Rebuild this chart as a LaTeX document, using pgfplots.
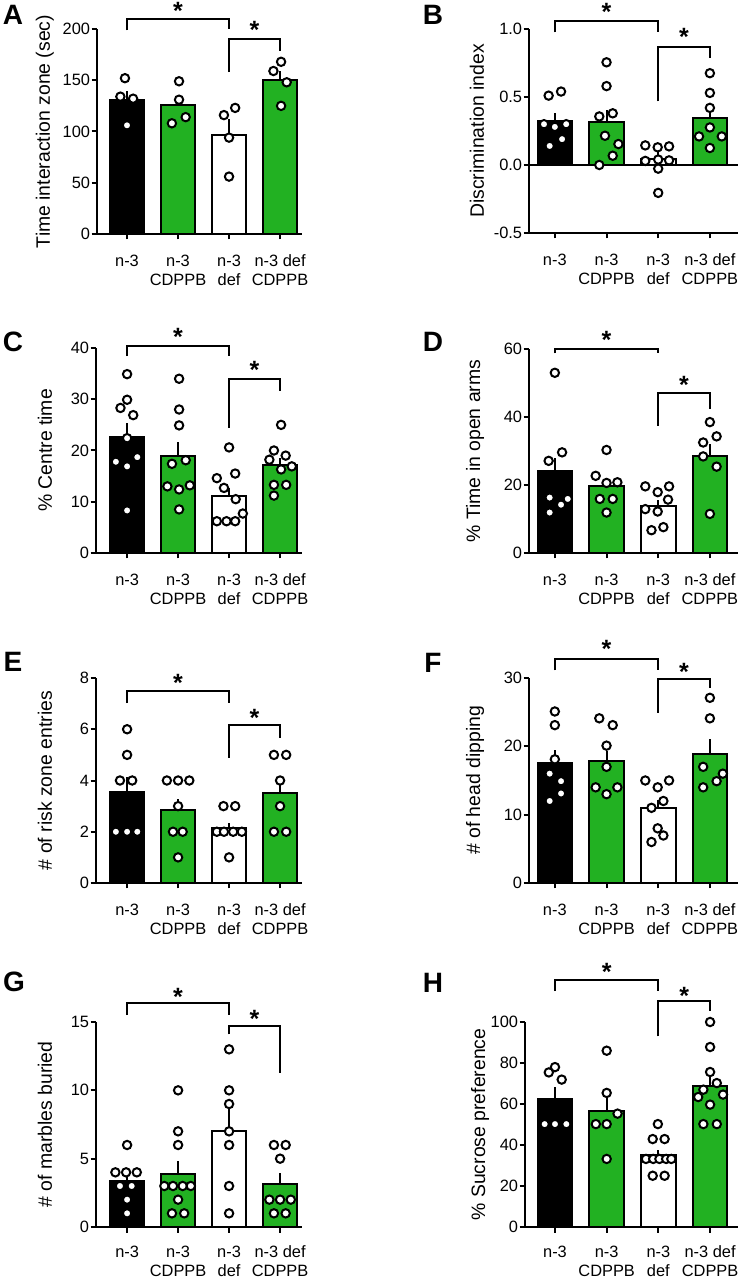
\documentclass[border=0pt]{standalone}
\usepackage{fontspec}
\setmainfont{Liberation Sans}
\usepackage{pgfplots}
\pgfplotsset{compat=1.18}
\definecolor{grn}{RGB}{34,177,34}
\pgfplotsset{
  panel/.style={
    scale only axis, clip=false, axis lines*=left, height=102.5pt,
    axis line style={line width=1pt},
    tick style={black, line width=1pt},
    major tick length=2.75pt, tick align=outside,
    xtick pos=left, ytick pos=left,
    xtick={0,1,2,3},
    xticklabels={n-3,{n-3\\CDPPB},{n-3\\def},{n-3 def\\CDPPB}},
    xticklabel style={align=center, font=\fontsize{8.2}{9.5}\selectfont, inner sep=0pt, anchor=north, yshift=-7.5pt},
    yticklabel style={font=\fontsize{8.2}{10}\selectfont, inner sep=0pt, anchor=east, xshift=-0.5pt},
    ylabel style={font=\fontsize{9.7}{11.6}\selectfont, anchor=center},
  },
  barst/.style={ybar, bar width=0.67, bar shift=0pt, draw=black, line width=1pt},
  dots/.style={only marks, mark=*, mark size=2.1pt, mark options={fill=white, draw=black, line width=1pt}},
  sem/.style={draw=none, mark=none, forget plot, error bars/.cd, y dir=plus, y explicit, error mark=none, error bar style={draw=black, line width=1pt}},
}
\newcommand{\sig}[7]{%
  \draw[line width=1pt] (axis cs:#1,#2) |- (axis cs:#3,#5) -- (axis cs:#3,#4);
  \node[font=\fontsize{12.5}{12.5}\selectfont\bfseries, yshift=-1.7pt] at (axis cs:#6,#7) {*};
}
\begin{document}
\begin{tikzpicture}
\useasboundingbox (0,0) rectangle (370.5pt,640pt);
\fill[white] (0,0) rectangle (370.5pt,640pt);

% ---------------- A
\begin{axis}[panel, at={(48.5pt,523pt)}, anchor=south west, width=102.5pt,
  xmin=-0.588, xmax=3.43, ymin=0, ymax=200,
  ytick={0,50,100,150,200}, yticklabels={0,50,100,150,200},
  ylabel={Time interaction zone (sec)}, ylabel style={at={(axis description cs:-0.254,0.5)}}]
\addplot[barst, fill=black] coordinates {(0,131)};
\addplot[barst, fill=grn] coordinates {(1,125.5)};
\addplot[barst, fill=white] coordinates {(2,97)};
\addplot[barst, fill=grn] coordinates {(3,150)};
\addplot[dots] coordinates {(-0.04,152) (-0.13,134) (0.12,132) (0,106)
  (1.02,149) (1.02,131) (0.88,108) (1.15,114)
  (1.90,116) (2.12,123) (2,94) (2,56)
  (3.02,168) (2.87,159) (3.13,148) (3.02,125)};
\addplot[sem] coordinates {(0,131) +- (0,8.5) (1,125.5) +- (0,8.4) (2,97) +- (0,15) (3,150) +- (0,8.8)};
\sig{0}{198.7}{2}{200}{209.4}{1}{221}
\sig{2}{158}{3}{179}{190.6}{2.5}{202.6}
\end{axis}

% ---------------- B
\begin{axis}[panel, at={(264.5pt,523.5pt)}, anchor=south west, width=104.4pt,
  xmin=-0.5, xmax=3.54, ymin=-0.5, ymax=1.0, height=102pt,
  ytick={-0.5,0,0.5,1}, yticklabels={-0.5,0.0,0.5,1.0},
  ylabel={Discrimination index}, ylabel style={at={(axis description cs:-0.249,0.5)}}]
\addplot[black, line width=1pt] coordinates {(-0.5,0) (3.54,0)};
\addplot[barst, fill=black] coordinates {(0,0.323)};
\addplot[barst, fill=grn] coordinates {(1,0.314)};
\addplot[barst, fill=white] coordinates {(2,0.045)};
\addplot[barst, fill=grn] coordinates {(3,0.349)};
\addplot[dots] coordinates {(-0.12,0.51) (0.12,0.54) (-0.21,0.30) (0,0.28) (0.22,0.30) (-0.10,0.14) (0.14,0.19)
  (1,0.755) (1,0.58) (0.86,0.357) (1.12,0.38) (0.97,0.215) (1.23,0.154) (1.12,0.068) (0.86,0.0)
  (1.75,0.144) (1.99,0.13) (2.21,0.137) (1.75,0.03) (2,0.04) (2.21,0.034) (2,-0.027) (2,-0.205)
  (3,0.675) (3,0.53) (3,0.42) (3,0.276) (2.79,0.21) (3.23,0.21) (3,0.125)};
\addplot[sem] coordinates {(0,0.323) +- (0,0.058) (1,0.314) +- (0,0.09) (2,0.045) +- (0,0.055) (3,0.349) +- (0,0.086)};
\sig{0}{0.976}{2}{0.976}{1.061}{1}{1.15}
\sig{2}{0.467}{3}{0.785}{0.87}{2.5}{0.968}
\end{axis}

% ---------------- C
\begin{axis}[panel, at={(48pt,363.5pt)}, anchor=south west, width=103pt,
  xmin=-0.61, xmax=3.43, ymin=0, ymax=40,
  ytick={0,10,20,30,40}, yticklabels={0,10,20,30,40},
  ylabel={\% Centre time}, ylabel style={at={(axis description cs:-0.248,0.5)}}]
\addplot[barst, fill=black] coordinates {(0,22.7)};
\addplot[barst, fill=grn] coordinates {(1,18.9)};
\addplot[barst, fill=white] coordinates {(2,11.2)};
\addplot[barst, fill=grn] coordinates {(3,17.1)};
\addplot[dots] coordinates {(0,34.9) (0,29.9) (-0.13,28.3) (0.12,26.9) (0,22.4) (-0.22,17.8) (0.2,18.7) (0,16.9) (0,8.3)
  (1.02,34.0) (1.02,28.0) (1.02,24.9) (0.88,17.4) (1.15,18.1) (0.79,13.0) (1.02,12.4) (1.23,13.2) (1.02,8.5)
  (2,20.6) (1.76,14.6) (2.12,15.5) (1.90,12.7) (2.13,10.5) (1.76,6.2) (1.95,6.2) (2.12,6.2) (2.27,7.7)
  (3.02,25.0) (2.88,20.0) (2.79,18.2) (3.11,19.0) (3.23,16.9) (3.02,16.3) (2.88,13.3) (3.12,13.3) (2.88,11.2)};
\addplot[sem] coordinates {(0,22.7) +- (0,2.7) (1,18.9) +- (0,2.8) (2,11.2) +- (0,1.5) (3,17.1) +- (0,1.4)};
\sig{0}{38.4}{2}{38.4}{40.3}{1}{42.9}
\sig{2}{24.4}{3}{31.7}{34.0}{2.5}{36.4}
\end{axis}

% ---------------- D
\begin{axis}[panel, at={(264.5pt,363.5pt)}, anchor=south west, width=104.4pt,
  xmin=-0.5, xmax=3.54, ymin=0, ymax=60, height=102pt,
  ytick={0,20,40,60}, yticklabels={0,20,40,60},
  ylabel={\% Time in open arms}, ylabel style={at={(axis description cs:-0.258,0.5)}}]
\addplot[barst, fill=black] coordinates {(0,24.0)};
\addplot[barst, fill=grn] coordinates {(1,19.8)};
\addplot[barst, fill=white] coordinates {(2,13.9)};
\addplot[barst, fill=grn] coordinates {(3,28.5)};
\addplot[dots] coordinates {(0,53) (-0.12,27.1) (0.14,29.6) (-0.10,16.3) (0.25,15.9) (0.12,14.2) (-0.10,11.9)
  (1,30.3) (0.79,22.7) (1,20.6) (1.21,20.8) (0.87,15.9) (1.12,15.9) (1,11.9)
  (1.75,19.6) (2.21,19.6) (1.99,17.9) (2.19,15.7) (1.75,12.9) (1.99,12.2) (1.87,6.7) (2.10,7.6)
  (3,38.5) (3.13,34.3) (2.87,32.5) (2.87,28.4) (3.13,25.4) (3,11.5)};
\addplot[sem] coordinates {(0,24.0) +- (0,3.9) (1,19.8) +- (0,2.2) (2,13.9) +- (0,1.8) (3,28.5) +- (0,3.6)};
\sig{0}{58.7}{2}{58.7}{59.9}{1}{63.6}
\sig{2}{37.4}{3}{42.3}{47.2}{2.5}{50.4}
\end{axis}

% ---------------- E
\begin{axis}[panel, at={(48pt,198.5pt)}, anchor=south west, width=103pt,
  xmin=-0.61, xmax=3.43, ymin=0, ymax=8,
  ytick={0,2,4,6,8}, yticklabels={0,2,4,6,8},
  ylabel={\# of risk zone entries}, ylabel style={at={(axis description cs:-0.248,0.5)}}]
\addplot[barst, fill=black] coordinates {(0,3.57)};
\addplot[barst, fill=grn] coordinates {(1,2.86)};
\addplot[barst, fill=white] coordinates {(2,2.14)};
\addplot[barst, fill=grn] coordinates {(3,3.5)};
\addplot[dots] coordinates {(0,6) (0,5) (-0.14,4) (0.10,4) (-0.22,2) (0,2) (0.2,2)
  (0.78,4) (1,4) (1.22,4) (1,3) (0.90,2) (1.09,2) (1,1)
  (1.89,3) (2.12,3) (1.76,2) (1.90,2) (2.08,2) (2.25,2) (2,1)
  (2.88,5) (3.12,5) (3,4) (3,3) (2.88,2) (3.12,2)};
\addplot[sem] coordinates {(0,3.57) +- (0,0.55) (1,2.86) +- (0,0.43) (2,2.14) +- (0,0.2) (3,3.5) +- (0,0.6)};
\sig{0}{7.02}{2}{7.02}{7.48}{1}{7.96}
\sig{2}{4.88}{3}{5.66}{6.18}{2.5}{6.57}
\end{axis}

% ---------------- F
\begin{axis}[panel, at={(264.5pt,198.5pt)}, anchor=south west, width=104.4pt,
  xmin=-0.5, xmax=3.54, ymin=0, ymax=30,
  ytick={0,10,20,30}, yticklabels={0,10,20,30},
  ylabel={\# of head dipping}, ylabel style={at={(axis description cs:-0.258,0.5)}}]
\addplot[barst, fill=black] coordinates {(0,17.5)};
\addplot[barst, fill=grn] coordinates {(1,17.9)};
\addplot[barst, fill=white] coordinates {(2,11.0)};
\addplot[barst, fill=grn] coordinates {(3,18.9)};
\addplot[dots] coordinates {(0,25.1) (0,23.1) (0,18.1) (-0.1,16.0) (0.12,14.9) (0.12,13.1) (-0.1,12.0)
  (0.86,24.1) (1.12,23.1) (1,20.1) (1,17.0) (0.79,14.0) (1.21,14.0) (1,13.0)
  (1.75,15.0) (1.99,14.0) (2.21,15.0) (2.10,12.0) (1.87,11.0) (1.99,8.0) (2.10,6.95) (1.87,6.0)
  (3,27.1) (3,24.1) (2.87,17.0) (3.13,14.9) (3.25,16.0) (2.87,14.0)};
\addplot[sem] coordinates {(0,17.5) +- (0,1.9) (1,17.9) +- (0,1.4) (2,11.0) +- (0,1.2) (3,18.9) +- (0,2.2)};
\sig{0}{31.1}{2}{31.1}{32.8}{1}{34.7}
\sig{2}{24.9}{3}{28.6}{29.8}{2.5}{31.4}
\end{axis}

% ---------------- G
\begin{axis}[panel, at={(48pt,26.5pt)}, anchor=south west, width=103pt,
  xmin=-0.61, xmax=3.43, ymin=0, ymax=15,
  ytick={0,5,10,15}, yticklabels={0,5,10,15},
  xticklabel style={yshift=1pt},
  ylabel={\# of marbles buried}, ylabel style={at={(axis description cs:-0.248,0.5)}}]
\addplot[barst, fill=black] coordinates {(0,3.38)};
\addplot[barst, fill=grn] coordinates {(1,3.9)};
\addplot[barst, fill=white] coordinates {(2,7.0)};
\addplot[barst, fill=grn] coordinates {(3,3.12)};
\addplot[dots] coordinates {(0,6) (-0.23,4) (-0.02,4) (0.19,4) (-0.14,3) (0.09,3) (0,2) (0,1)
  (1,10) (1,7) (1,6) (0.73,3) (0.90,3) (1.09,3) (1.25,3) (1,2) (0.88,1) (1.12,1)
  (2,13) (2,10) (2,9) (2,7) (2,6) (2,3) (2,1)
  (2.88,6) (3.11,6) (3,5) (2.79,2) (3,2) (3.21,2) (2.88,1) (3.11,1)};
\addplot[sem] coordinates {(0,3.38) +- (0,0.6) (1,3.9) +- (0,0.93) (2,7.0) +- (0,1.6) (3,3.12) +- (0,0.85)};
\sig{0}{15.5}{2}{15.5}{16.4}{1}{17.1}
\sig{2}{14.1}{3}{11.3}{14.7}{2.5}{15.5}
\end{axis}

% ---------------- H
\begin{axis}[panel, at={(262.5pt,26.5pt)}, anchor=south west, width=106.5pt,
  xmin=-0.58, xmax=3.54, ymin=0, ymax=100,
  ytick={0,20,40,60,80,100}, yticklabels={0,20,40,60,80,100},
  xticklabel style={yshift=1pt},
  ylabel={\% Sucrose preference}, ylabel style={at={(axis description cs:-0.211,0.5)}}]
\addplot[barst, fill=black] coordinates {(0,62.6)};
\addplot[barst, fill=grn] coordinates {(1,56.7)};
\addplot[barst, fill=white] coordinates {(2,35.2)};
\addplot[barst, fill=grn] coordinates {(3,68.9)};
\addplot[dots] coordinates {(0,78.0) (-0.12,75.4) (0.13,71.9) (-0.2,50.2) (0,50.2) (0.22,50.2)
  (1,86.0) (1,65.4) (1.21,55.3) (0.79,50.2) (1,50.2) (1,33.2)
  (1.99,50.2) (1.89,42.9) (2.12,42.9) (1.76,33.2) (1.90,33.2) (2.02,33.2) (2.15,33.2) (2.25,33.2) (1.89,25.0) (2.12,25.0)
  (3,100) (3,87.8) (3,75.6) (3.13,70.2) (2.87,67.0) (3.25,64.6) (2.77,63.4) (3,59.7) (2.87,50.2) (3.13,50.2)};
\addplot[sem] coordinates {(0,62.6) +- (0,5.5) (1,56.7) +- (0,6.7) (2,35.2) +- (0,2.5) (3,68.9) +- (0,4.3)};
\sig{0}{115}{2}{115}{120.7}{1}{125.9}
\sig{2}{93}{3}{105.2}{110.1}{2.5}{114.6}
\end{axis}

% panel letters
\begin{scope}[every node/.style={font=\fontsize{14}{14}\selectfont\bfseries, inner sep=0pt}]
\node at (6.5pt,632.5pt) {A};
\node at (216.5pt,632.5pt) {B};
\node at (6.5pt,469pt) {C};
\node at (216.5pt,469pt) {D};
\node at (6.5pt,309pt) {E};
\node at (216.5pt,308.5pt) {F};
\node at (7pt,149pt) {G};
\node at (216.5pt,148.5pt) {H};
\end{scope}
\end{tikzpicture}
\end{document}
